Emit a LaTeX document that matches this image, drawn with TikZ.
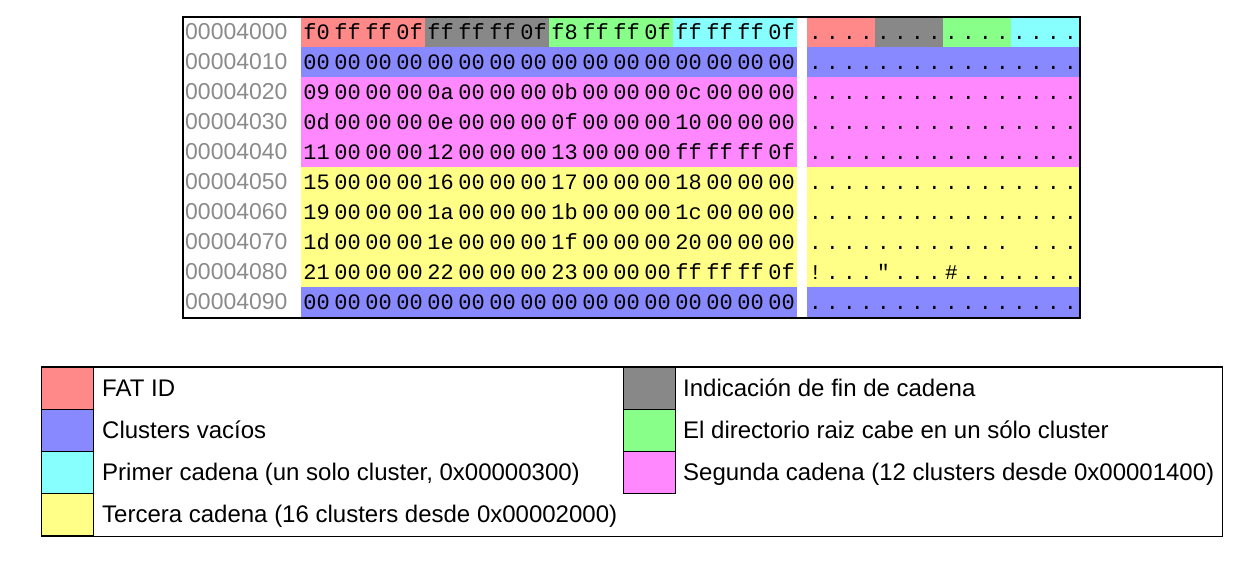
\documentclass[tikz,border=0pt]{standalone}
\usepackage{fontspec}
\setmainfont{Liberation Sans}
\newfontfamily\hexfont{Liberation Mono}
\definecolor{cRed}{HTML}{FF8888}
\definecolor{cGray}{HTML}{888888}
\definecolor{cGreen}{HTML}{88FF88}
\definecolor{cCyan}{HTML}{88FFFF}
\definecolor{cBlue}{HTML}{8888FF}
\definecolor{cMag}{HTML}{FF88FF}
\definecolor{cYel}{HTML}{FFFF88}
\definecolor{cAddr}{HTML}{8A8A8A}
\newcommand\fatrow[4]{%
  \node[addr] (ad#1) at (185,{40+30*#1}) {#2};
  \foreach \b [count=\i from 0] in {#3}
    \node[hexb] (h#1-\i) at ({316.5+31*\i},{39.5+30*#1}) {\b};
  \foreach \c [count=\i from 0] in {#4}
    \node[asc] (a#1-\i) at ({815.5+17*\i},{39.5+30*#1}) {\c};
}
\begin{document}
\begin{tikzpicture}[x=1pt,y=-1pt,
  hexb/.style={font=\hexfont\fontsize{22}{22}\selectfont, inner sep=0, anchor=base},
  asc/.style={font=\hexfont\fontsize{21}{21}\selectfont, inner sep=0, anchor=base},
  addr/.style={font=\fontsize{23}{23}\selectfont, text=cAddr, inner sep=0, anchor=base west},
  legtext/.style={font=\fontsize{24}{24}\selectfont, inner sep=0, anchor=base west},
  swatch/.style={draw=black, line width=1pt, minimum width=52, minimum height=42, inner sep=0, anchor=north west},
  frame/.style={draw=black, line width=1.2pt},
]
\useasboundingbox (0,0) rectangle (1256,569);
% colour bands of the hex dump
\fill[cRed]   (301,17) rectangle (425,47);
\fill[cGray]  (425,17) rectangle (549,47);
\fill[cGreen] (549,17) rectangle (673,47);
\fill[cCyan]  (673,17) rectangle (797,47);
\fill[cRed]   (807,17) rectangle (875,47);
\fill[cGray]  (875,17) rectangle (943,47);
\fill[cGreen] (943,17) rectangle (1011,47);
\fill[cCyan]  (1011,17) rectangle (1079,47);
\fill[cBlue]  (301,47) rectangle (797,77);
\fill[cBlue]  (807,47) rectangle (1079,77);
\fill[cMag]   (301,77) rectangle (797,167);
\fill[cMag]   (807,77) rectangle (1079,167);
\fill[cYel]   (301,167) rectangle (797,287);
\fill[cYel]   (807,167) rectangle (1079,287);
\fill[cBlue]  (301,287) rectangle (797,317);
\fill[cBlue]  (807,287) rectangle (1079,317);
\draw[frame] (183,17) rectangle (1080,318);
% rows
\fatrow{0}{00004000}{f0,ff,ff,0f,ff,ff,ff,0f,f8,ff,ff,0f,ff,ff,ff,0f}{.,.,.,.,.,.,.,.,.,.,.,.,.,.,.,.}
\fatrow{1}{00004010}{00,00,00,00,00,00,00,00,00,00,00,00,00,00,00,00}{.,.,.,.,.,.,.,.,.,.,.,.,.,.,.,.}
\fatrow{2}{00004020}{09,00,00,00,0a,00,00,00,0b,00,00,00,0c,00,00,00}{.,.,.,.,.,.,.,.,.,.,.,.,.,.,.,.}
\fatrow{3}{00004030}{0d,00,00,00,0e,00,00,00,0f,00,00,00,10,00,00,00}{.,.,.,.,.,.,.,.,.,.,.,.,.,.,.,.}
\fatrow{4}{00004040}{11,00,00,00,12,00,00,00,13,00,00,00,ff,ff,ff,0f}{.,.,.,.,.,.,.,.,.,.,.,.,.,.,.,.}
\fatrow{5}{00004050}{15,00,00,00,16,00,00,00,17,00,00,00,18,00,00,00}{.,.,.,.,.,.,.,.,.,.,.,.,.,.,.,.}
\fatrow{6}{00004060}{19,00,00,00,1a,00,00,00,1b,00,00,00,1c,00,00,00}{.,.,.,.,.,.,.,.,.,.,.,.,.,.,.,.}
\fatrow{7}{00004070}{1d,00,00,00,1e,00,00,00,1f,00,00,00,20,00,00,00}{.,.,.,.,.,.,.,.,.,.,.,.,{},.,.,.}
\fatrow{8}{00004080}{21,00,00,00,22,00,00,00,23,00,00,00,ff,ff,ff,0f}{!,.,.,.,",.,.,.,\#,.,.,.,.,.,.,.}
\fatrow{9}{00004090}{00,00,00,00,00,00,00,00,00,00,00,00,00,00,00,00}{.,.,.,.,.,.,.,.,.,.,.,.,.,.,.,.}
% legend
\draw[black, line width=1pt] (41,367) rectangle (1222,536);
\node[swatch, fill=cRed]  (sw1) at (41,367) {};
\node[swatch, fill=cBlue] (sw2) at (41,409) {};
\node[swatch, fill=cCyan] (sw3) at (41,451) {};
\node[swatch, fill=cYel]  (sw4) at (41,493) {};
\node[swatch, fill=cGray] (sw5) at (623,367) {};
\node[swatch, fill=cGreen](sw6) at (623,409) {};
\node[swatch, fill=cMag]  (sw7) at (623,451) {};
\node[legtext] (l1) at (102,396) {FAT ID};
\node[legtext] (l2) at (102,438) {Clusters vacíos};
\node[legtext] (l3) at (102,480) {Primer cadena (un solo cluster, 0x00000300)};
\node[legtext] (l4) at (102,522) {Tercera cadena (16 clusters desde 0x00002000)};
\node[legtext] (l5) at (683,396) {Indicación de fin de cadena};
\node[legtext] (l6) at (683,438) {El directorio raiz cabe en un sólo cluster};
\node[legtext] (l7) at (683,480) {Segunda cadena (12 clusters desde 0x00001400)};
\end{tikzpicture}
\end{document}
